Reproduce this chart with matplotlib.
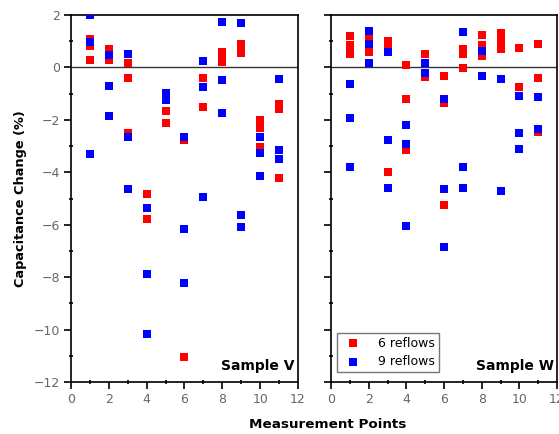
import numpy as np
import matplotlib
matplotlib.use('Agg')
matplotlib.rcParams['font.family'] = 'DejaVu Sans'
import matplotlib.pyplot as plt
from matplotlib.ticker import MultipleLocator

# ── Data ──────────────────────────────────────────────────────────────────────
v_x6 = [1, 1, 1, 2, 2, 3, 3, 3, 4, 4, 5, 5, 6, 6, 7, 7,
        8, 8, 8, 9, 9, 9, 10, 10, 10, 11, 11, 11]
v_y6 = [1.08, 0.83, 0.28, 0.69, 0.28, 0.16, -0.40, -2.49, -4.84, -5.79, -1.66, -2.13, -2.75, -11.04, -0.39, -1.50,
        0.60, 0.40, 0.20, 0.90, 0.75, 0.55, -2.00, -2.30, -3.03, -1.40, -1.60, -4.22]
v_x9 = [1, 1, 1, 2, 2, 2, 3, 3, 3, 4, 4, 4, 5, 5, 6, 6, 6,
        7, 7, 7, 8, 8, 8, 9, 9, 9, 10, 10, 10, 11, 11, 11]
v_y9 = [2.0, 0.96, -3.32, 0.47, -0.71, -1.87, 0.51, -2.67, -4.64, -5.38, -7.88, -10.15, -0.99, -1.24, -2.67, -6.18, -8.24,
        0.26, -0.74, -4.93, 1.74, -0.48, -1.73, 1.68, -5.63, -6.10, -2.66, -3.28, -4.15, -0.43, -3.16, -3.51]

w_x6 = [1, 1, 1, 1, 2, 2, 3, 3, 3, 4, 4, 4, 4, 5, 5, 6, 6, 6,
        7, 7, 7, 8, 8, 8, 9, 9, 9, 9, 10, 10, 11, 11, 11]
w_y6 = [1.20, 0.85, 0.65, 0.50, 1.15, 0.58, 1.00, 0.80, -3.98, 0.09, -1.22, -3.15, -3.00, 0.52, -0.38, -0.33, -1.35, -5.23,
        0.70, 0.50, -0.04, 1.24, 0.85, 0.44, 1.30, 1.10, 0.90, 0.70, 0.73, -0.76, 0.88, -0.40, -2.46]
w_x9 = [1, 1, 1, 2, 2, 2, 3, 3, 3, 4, 4, 4, 5, 5, 6, 6, 6,
        7, 7, 7, 8, 8, 9, 9, 10, 10, 10, 11, 11]
w_y9 = [-0.63, -1.94, -3.81, 1.39, 0.89, 0.18, 0.60, -2.76, -4.61, -2.20, -2.92, -6.05, 0.16, -0.23, -1.22, -4.65, -6.85,
        1.34, -3.81, -4.60, 0.63, -0.33, -0.44, -4.70, -1.10, -2.52, -3.11, -1.14, -2.33]

RED = '#FF0000'
BLUE = '#0000FF'
GREY = '#666666'

fig = plt.figure(figsize=(5.59, 4.34), dpi=100)
fig.patch.set_facecolor('white')
ax1 = fig.add_axes([71/559, 52/434, 227/559, 367/434])
ax2 = fig.add_axes([331/559, 52/434, 226/559, 367/434])

panels = [(ax1, v_x6, v_y6, v_x9, v_y9, 'Sample V'),
          (ax2, w_x6, w_y6, w_x9, w_y9, 'Sample W')]

for ax, x6, y6, x9, y9, name in panels:
    ax.scatter(x6, y6, marker='s', s=26, color=RED, lw=0, zorder=3, label='6 reflows')
    ax.scatter(x9, y9, marker='s', s=26, color=BLUE, lw=0, zorder=4, label='9 reflows')
    ax.axhline(0, color='#333333', lw=1.0, zorder=2)
    ax.set_xlim(0, 12)
    ax.set_ylim(-12, 2)
    ax.xaxis.set_major_locator(MultipleLocator(2))
    ax.xaxis.set_minor_locator(MultipleLocator(1))
    ax.yaxis.set_major_locator(MultipleLocator(2))
    ax.yaxis.set_minor_locator(MultipleLocator(1))
    ax.tick_params(which='major', direction='out', length=5, width=1.2,
                   labelsize=9, labelcolor=GREY, pad=3)
    ax.tick_params(which='minor', direction='inout', length=3, width=1.2)
    ax.tick_params(top=False, right=False, which='both')
    for sp in ax.spines.values():
        sp.set_linewidth(1.2)
    ax.text(0.985, 0.025, name, transform=ax.transAxes, ha='right', va='bottom',
            fontsize=10, fontweight='bold')

ax2.tick_params(labelleft=False)
ax1.set_ylabel('Capacitance Change (%)', fontsize=9.3, fontweight='bold', labelpad=5)
fig.text(328/559, 1 - 425/434, 'Measurement Points', ha='center', va='center',
         fontsize=9.7, fontweight='bold')

leg = ax2.legend(loc='lower left', bbox_to_anchor=(0.027, 0.027), borderaxespad=0,
                 fontsize=9, frameon=True, fancybox=False, handletextpad=1.0,
                 borderpad=0.3, labelspacing=0.45, markerscale=1.0)
leg.get_frame().set_edgecolor('#555555')
leg.get_frame().set_linewidth(1.0)

plt.savefig('out.png', dpi=100, facecolor='white')
